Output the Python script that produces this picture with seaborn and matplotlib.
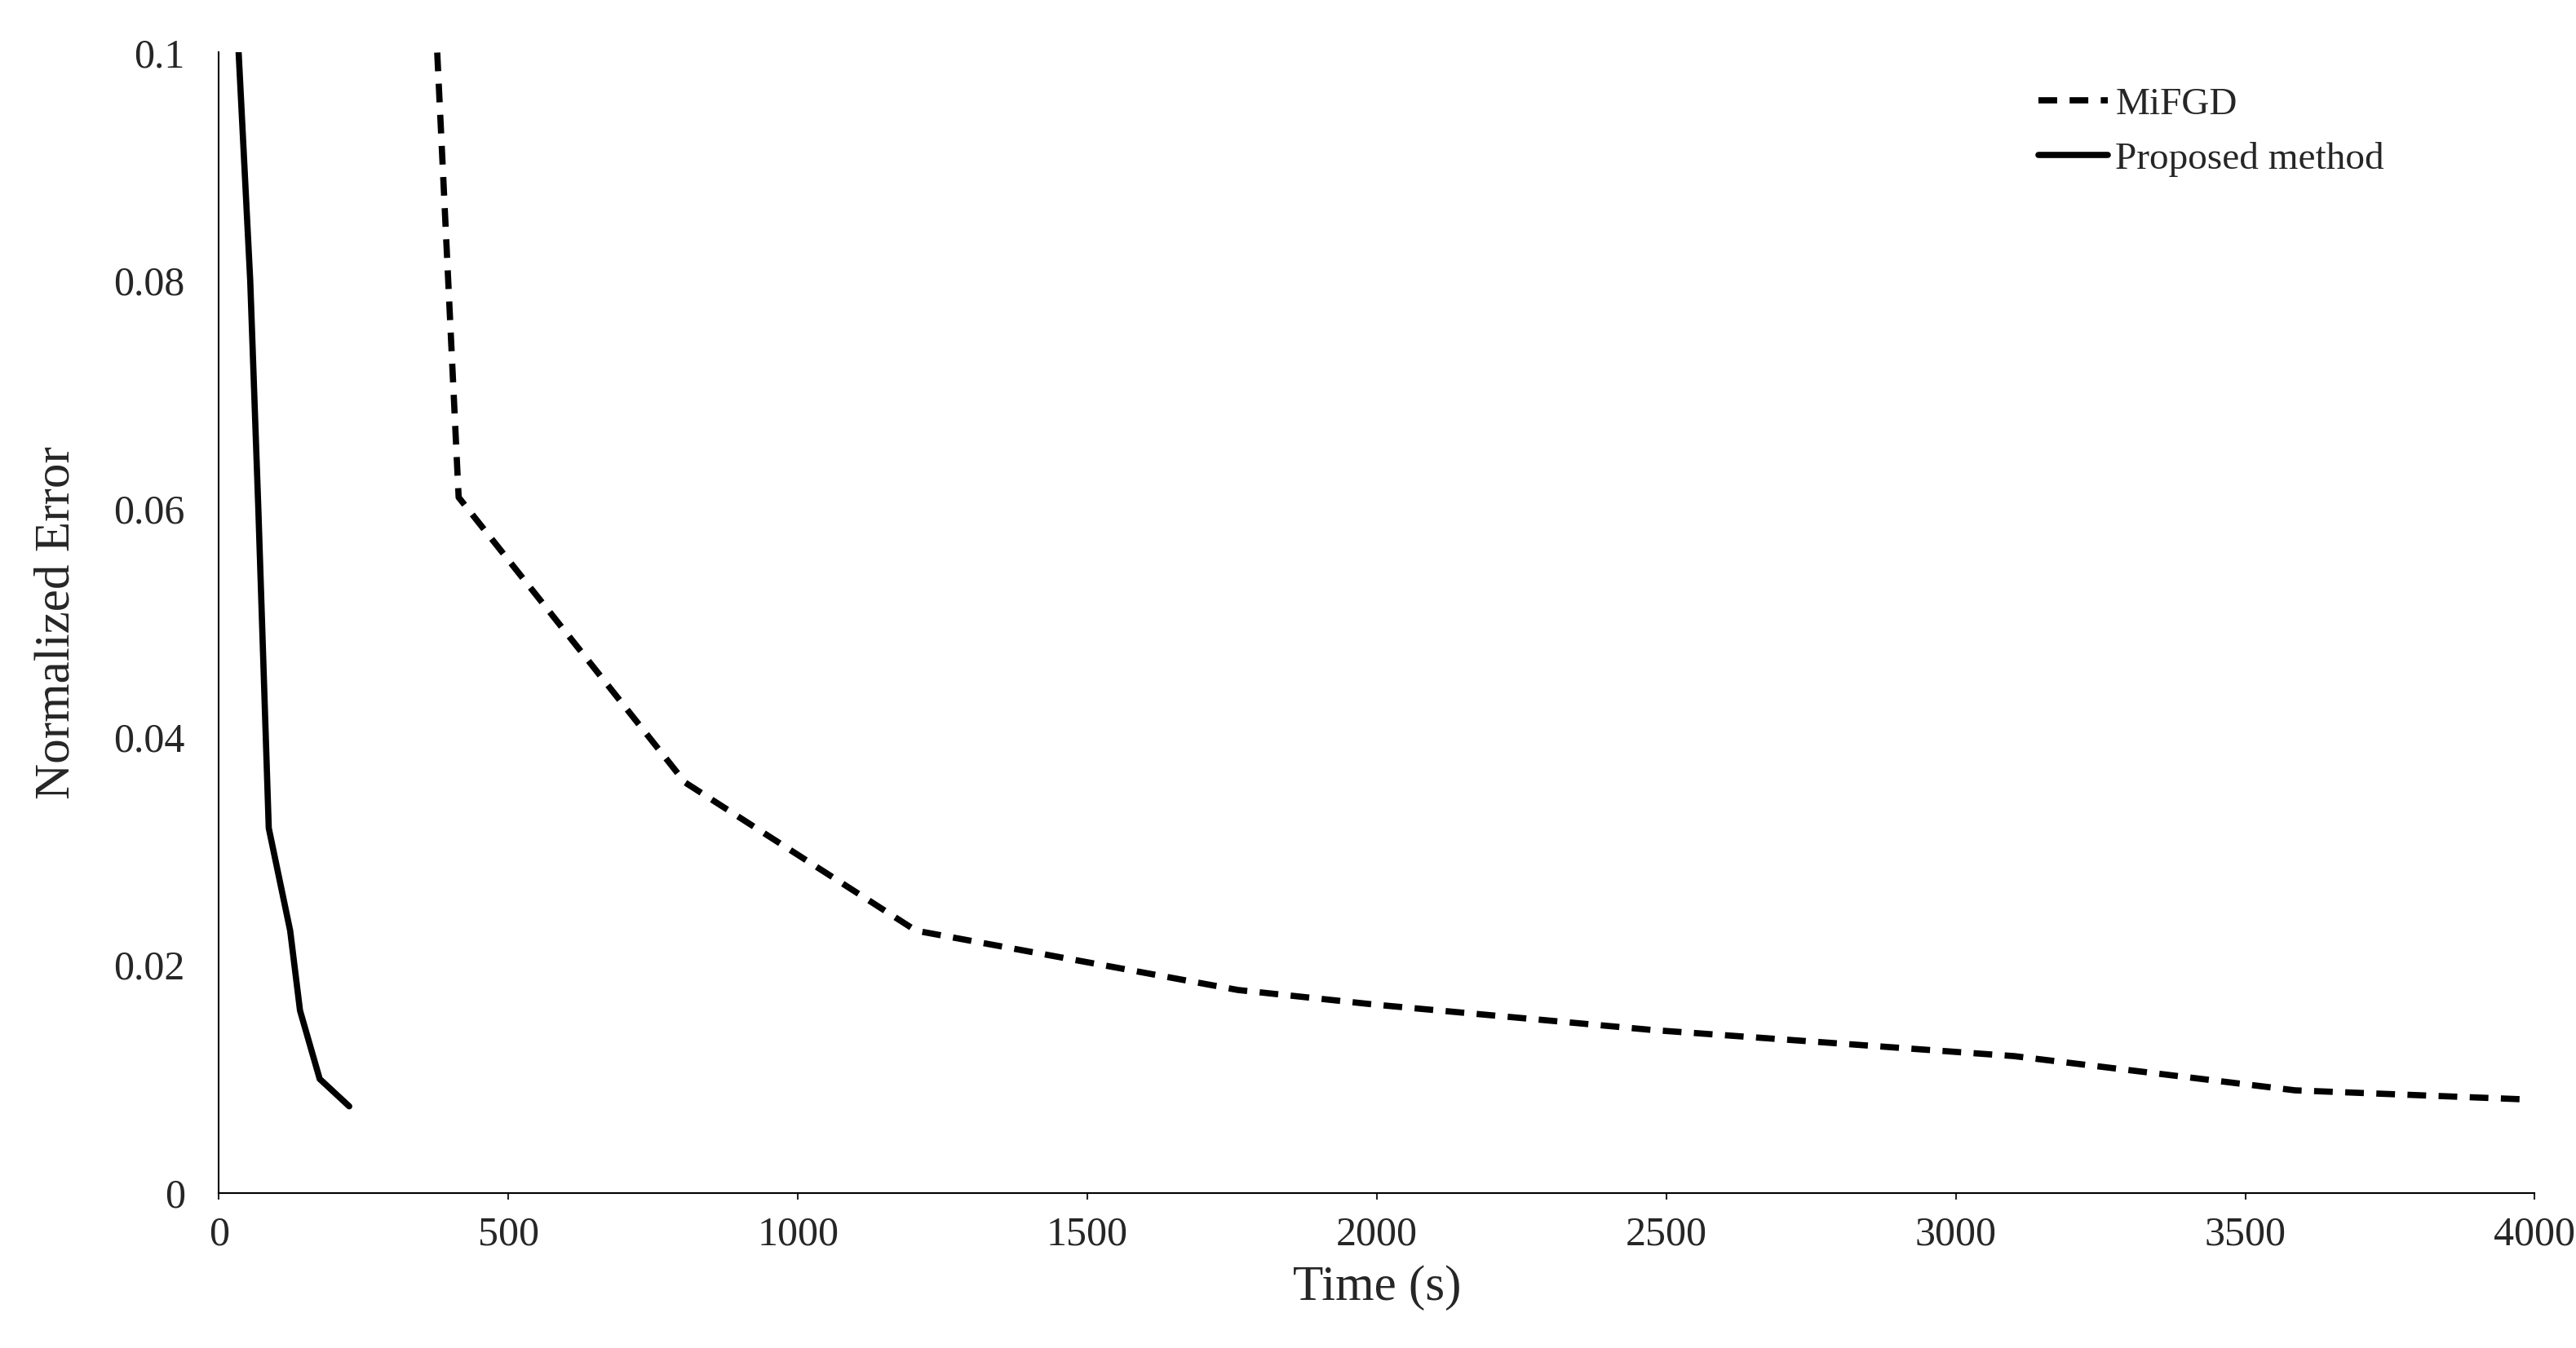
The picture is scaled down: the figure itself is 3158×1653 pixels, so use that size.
import matplotlib
matplotlib.use("Agg")
import matplotlib.pyplot as plt
import pandas as pd
import seaborn as sns

# values
proposed_time = [34, 54, 68, 86, 123, 140, 174, 225]
proposed_err = [0.1, 0.080, 0.060, 0.032, 0.023, 0.016, 0.010, 0.0076]
mifgd_time = [377, 414, 805, 1204, 1760, 2000, 2474, 3101, 3586, 3986]
mifgd_err = [0.1, 0.061, 0.036, 0.023, 0.0178, 0.0165, 0.0143, 0.012, 0.009, 0.0082]

sns.set_style("white")
plt.rcParams["font.family"] = ["Liberation Serif", "DejaVu Serif"]

fig = plt.figure(figsize=(31.58, 16.53), dpi=100)
ax = fig.add_axes([0.085, 0.115, 0.899, 0.846])

df_m = pd.DataFrame({"t": mifgd_time, "e": mifgd_err})
df_p = pd.DataFrame({"t": proposed_time, "e": proposed_err})
sns.lineplot(data=df_m, x="t", y="e", ax=ax, color="black", lw=5.5,
             linestyle=(0, (3, 2)), label="MiFGD")
sns.lineplot(data=df_p, x="t", y="e", ax=ax, color="black", lw=5.5,
             label="Proposed method")

ax.set_xlim(0, 4000)
ax.set_ylim(0, 0.1)
ax.set_xticks(range(0, 4001, 500))
ax.set_yticks([0, 0.02, 0.04, 0.06, 0.08, 0.1])
ax.set_yticklabels(["0", "0.02", "0.04", "0.06", "0.08", "0.1"])
ax.tick_params(axis="x", labelsize=36, length=6, width=1.5, direction="out", bottom=True, pad=14)
ax.tick_params(axis="y", labelsize=36, length=0, left=False, pad=30)
ax.set_xlabel("Time (s)", fontsize=44, labelpad=10)
ax.set_ylabel("Normalized Error", fontsize=44, labelpad=30)
for s in ["top", "right"]:
    ax.spines[s].set_visible(False)
for s in ["left", "bottom"]:
    ax.spines[s].set_color("black")
    ax.spines[s].set_linewidth(1.5)

ax.legend(loc="upper right", bbox_to_anchor=(0.95, 1.0), frameon=False,
          fontsize=34, handlelength=1.8, handletextpad=0.2)

fig.savefig("out.png", dpi=100)
